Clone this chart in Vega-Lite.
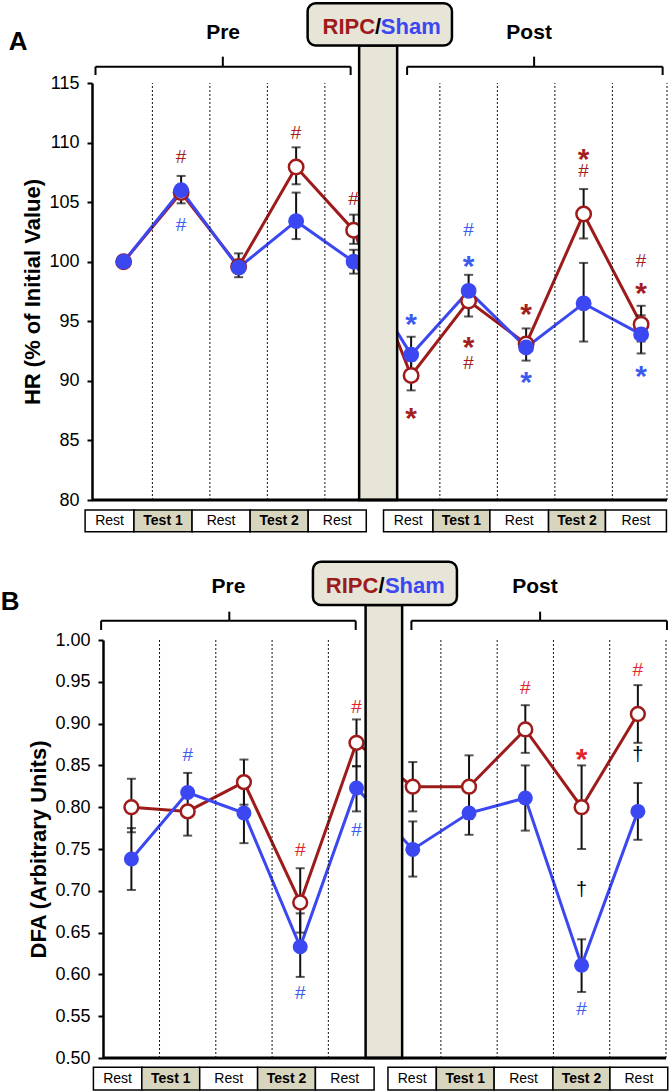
{
"$schema": "https://vega.github.io/schema/vega-lite/v6.json",
"padding": {"left": 0, "top": 2, "right": 0, "bottom": 0},
"config": {"view": {"stroke": null}, "font": "Liberation Sans", "text": {"color": "black"}},
"spacing": 27,
"datasets": {
"hr": [
{"t":1,"g":"RIPC","v":100},
{"t":2,"g":"RIPC","v":105.8,"lo":104.9,"hi":107.2},
{"t":3,"g":"RIPC","v":99.6,"lo":98.7,"hi":100.7},
{"t":4,"g":"RIPC","v":107.95,"lo":106.5,"hi":109.6},
{"t":5,"g":"RIPC","v":102.65,"lo":101.5,"hi":103.95},
{"t":6,"g":"RIPC","v":90.45,"lo":89.2,"hi":91.7},
{"t":7,"g":"RIPC","v":96.7,"lo":95.4,"hi":98.0},
{"t":8,"g":"RIPC","v":93.1,"lo":91.7,"hi":94.4},
{"t":9,"g":"RIPC","v":104.0,"lo":101.95,"hi":106.1},
{"t":10,"g":"RIPC","v":94.75,"lo":93.3,"hi":96.3},
{"t":1,"g":"Sham","v":100},
{"t":2,"g":"Sham","v":106.0},
{"t":3,"g":"Sham","v":99.5},
{"t":4,"g":"Sham","v":103.4,"lo":101.9,"hi":105.8},
{"t":5,"g":"Sham","v":100.0,"lo":99.0,"hi":101.0},
{"t":6,"g":"Sham","v":92.2,"lo":90.8,"hi":93.7},
{"t":7,"g":"Sham","v":97.55,"lo":96.4,"hi":98.9},
{"t":8,"g":"Sham","v":92.8},
{"t":9,"g":"Sham","v":96.5,"lo":93.3,"hi":99.9},
{"t":10,"g":"Sham","v":93.9,"lo":92.3,"hi":95.5}
],
"dfa": [
{"t":1,"g":"RIPC","v":0.800,"lo":0.770,"hi":0.834},
{"t":2,"g":"RIPC","v":0.795,"lo":0.766,"hi":0.841},
{"t":3,"g":"RIPC","v":0.830,"lo":0.803,"hi":0.857},
{"t":4,"g":"RIPC","v":0.686,"lo":0.650,"hi":0.727},
{"t":5,"g":"RIPC","v":0.877,"lo":0.849,"hi":0.905},
{"t":6,"g":"RIPC","v":0.8245,"lo":0.795,"hi":0.854},
{"t":7,"g":"RIPC","v":0.8245,"lo":0.786,"hi":0.862},
{"t":8,"g":"RIPC","v":0.893,"lo":0.865,"hi":0.922},
{"t":9,"g":"RIPC","v":0.800,"lo":0.750,"hi":0.850},
{"t":10,"g":"RIPC","v":0.9115,"lo":0.877,"hi":0.946},
{"t":1,"g":"Sham","v":0.738,"lo":0.701,"hi":0.775},
{"t":2,"g":"Sham","v":0.8175},
{"t":3,"g":"Sham","v":0.793,"lo":0.757,"hi":0.829},
{"t":4,"g":"Sham","v":0.633,"lo":0.597,"hi":0.673},
{"t":5,"g":"Sham","v":0.823,"lo":0.795,"hi":0.849},
{"t":6,"g":"Sham","v":0.7495,"lo":0.717,"hi":0.783},
{"t":7,"g":"Sham","v":0.793,"lo":0.767,"hi":0.82},
{"t":8,"g":"Sham","v":0.811,"lo":0.772,"hi":0.850},
{"t":9,"g":"Sham","v":0.611,"lo":0.579,"hi":0.642},
{"t":10,"g":"Sham","v":0.795,"lo":0.761,"hi":0.829}
],
"hrMarks": [
{"t":2,"g":"RIPC","v":108.75,"s":"#"},
{"t":2,"g":"Sham","v":103.05,"s":"#"},
{"t":4,"g":"RIPC","v":110.8,"s":"#"},
{"t":5,"g":"RIPC","v":105.3,"s":"#"},
{"t":6,"g":"Sham","v":95.4,"s":"*"},
{"t":6,"g":"RIPC","v":87.5,"s":"*"},
{"t":7,"g":"Sham","v":102.7,"s":"#"},
{"t":7,"g":"Sham","v":100.25,"s":"*"},
{"t":7,"g":"RIPC","v":93.4,"s":"*"},
{"t":7,"g":"RIPC","v":91.5,"s":"#"},
{"t":8,"g":"RIPC","v":96.2,"s":"*"},
{"t":8,"g":"Sham","v":90.5,"s":"*"},
{"t":9,"g":"RIPC","v":109.2,"s":"*"},
{"t":9,"g":"RIPC","v":107.6,"s":"#"},
{"t":10,"g":"RIPC","v":100.05,"s":"#"},
{"t":10,"g":"RIPC","v":98.0,"s":"*"},
{"t":10,"g":"Sham","v":91.0,"s":"*"}
],
"dfaMarks": [
{"t":2,"g":"Sham","v":0.863,"s":"#"},
{"t":4,"g":"RIPC","v":0.749,"s":"#"},
{"t":4,"g":"Sham","v":0.578,"s":"#"},
{"t":5,"g":"RIPC","v":0.92,"s":"#"},
{"t":5,"g":"Sham","v":0.773,"s":"#"},
{"t":8,"g":"RIPC","v":0.942,"s":"#"},
{"t":9,"g":"RIPC","v":0.866,"s":"*"},
{"t":9,"g":"none","v":0.701,"s":"†"},
{"t":9,"g":"Sham","v":0.559,"s":"#"},
{"t":10,"g":"RIPC","v":0.964,"s":"#"},
{"t":10,"g":"none","v":0.862,"s":"†"}
],
"cellsA": [
{"from":0.33,"to":1.18,"m":0.755,"label":"Rest","k":"Rest"},
{"from":1.18,"to":2.19,"m":1.685,"label":"Test 1","k":"Test"},
{"from":2.19,"to":3.2,"m":2.695,"label":"Rest","k":"Rest"},
{"from":3.2,"to":4.21,"m":3.705,"label":"Test 2","k":"Test"},
{"from":4.21,"to":5.22,"m":4.715,"label":"Rest","k":"Rest"},
{"from":5.52,"to":6.38,"m":5.95,"label":"Rest","k":"Rest"},
{"from":6.38,"to":7.37,"m":6.875,"label":"Test 1","k":"Test"},
{"from":7.37,"to":8.39,"m":7.88,"label":"Rest","k":"Rest"},
{"from":8.39,"to":9.38,"m":8.885,"label":"Test 2","k":"Test"},
{"from":9.38,"to":10.44,"m":9.91,"label":"Rest","k":"Rest"}
],
"cellsB": [
{"from":0.325,"to":1.185,"m":0.755,"label":"Rest","k":"Rest"},
{"from":1.185,"to":2.214,"m":1.7,"label":"Test 1","k":"Test"},
{"from":2.214,"to":3.243,"m":2.73,"label":"Rest","k":"Rest"},
{"from":3.243,"to":4.27,"m":3.757,"label":"Test 2","k":"Test"},
{"from":4.27,"to":5.313,"m":4.79,"label":"Rest","k":"Rest"},
{"from":5.559,"to":6.419,"m":5.989,"label":"Rest","k":"Rest"},
{"from":6.419,"to":7.446,"m":6.933,"label":"Test 1","k":"Test"},
{"from":7.446,"to":8.491,"m":7.969,"label":"Rest","k":"Rest"},
{"from":8.491,"to":9.504,"m":8.998,"label":"Test 2","k":"Test"},
{"from":9.504,"to":10.531,"m":10.018,"label":"Rest","k":"Rest"}
],
"divA": [{"d":1.5},{"d":2.5},{"d":3.5},{"d":4.5},{"d":6.5},{"d":7.5},{"d":8.5},{"d":9.5},{"d":10.45}],
"divB": [{"d":1.5},{"d":2.5},{"d":3.5},{"d":4.5},{"d":6.5},{"d":7.5},{"d":8.5},{"d":9.5},{"d":10.5}],
"one": [{"n":1}]
},
"vconcat": [
{
"width": 575, "height": 417,
"layer": [
{"data": {"name": "hr"}, "mark": {"type": "line", "strokeWidth": 3},
 "encoding": {
  "x": {"field": "t", "type": "quantitative", "scale": {"domain": [0.45, 10.45], "nice": false, "zero": false}, "axis": null},
  "y": {"field": "v", "type": "quantitative", "scale": {"domain": [80, 115], "nice": false, "zero": false},
   "axis": {"values": [80,85,90,95,100,105,110,115], "format": "d", "title": "HR (% of Initial Value)", "titleFontSize": 22, "titleFontWeight": "bold", "titleColor": "black", "titlePadding": 4, "labelFontSize": 18, "labelColor": "black", "labelPadding": 8, "labelOverlap": false, "tickColor": "black", "tickSize": 5, "tickWidth": 2, "domainColor": "black", "domainWidth": 2.5, "grid": false}},
  "color": {"field": "g", "type": "nominal", "scale": {"domain": ["RIPC", "Sham"], "range": ["#9e1b1b", "#3b48f2"]}, "legend": null}}},
{"data": {"name": "divA"}, "mark": {"type": "rule", "strokeDash": [2, 2], "strokeWidth": 1, "color": "#111"},
 "encoding": {"x": {"field": "d", "type": "quantitative", "axis": null}, "y": {"datum": 80}, "y2": {"datum": 115}}},
{"data": {"name": "hr"}, "transform": [{"filter": "datum.lo != null"}], "mark": {"type": "rule", "strokeWidth": 2, "color": "#111"},
 "encoding": {"x": {"field": "t", "type": "quantitative", "axis": null}, "y": {"field": "lo", "type": "quantitative"}, "y2": {"field": "hi"}}},
{"data": {"name": "hr"}, "transform": [{"filter": "datum.lo != null"}], "mark": {"type": "tick", "orient": "horizontal", "size": 9, "thickness": 2, "color": "#111"},
 "encoding": {"x": {"field": "t", "type": "quantitative", "axis": null}, "y": {"field": "lo", "type": "quantitative"}}},
{"data": {"name": "hr"}, "transform": [{"filter": "datum.lo != null"}], "mark": {"type": "tick", "orient": "horizontal", "size": 9, "thickness": 2, "color": "#111"},
 "encoding": {"x": {"field": "t", "type": "quantitative", "axis": null}, "y": {"field": "hi", "type": "quantitative"}}},
{"data": {"name": "hr"}, "transform": [{"filter": "datum.g == 'RIPC'"}], "mark": {"type": "point", "shape": "circle", "filled": true, "fill": "white", "stroke": "#9e1b1b", "strokeWidth": 2.5, "size": 210, "opacity": 1},
 "encoding": {"x": {"field": "t", "type": "quantitative", "axis": null}, "y": {"field": "v", "type": "quantitative"}}},
{"data": {"name": "hr"}, "transform": [{"filter": "datum.g == 'Sham'"}], "mark": {"type": "circle", "size": 250, "color": "#3b48f2", "opacity": 1},
 "encoding": {"x": {"field": "t", "type": "quantitative", "axis": null}, "y": {"field": "v", "type": "quantitative"}}},
{"data": {"name": "one"}, "mark": {"type": "rect", "fill": "#e6e5d8", "stroke": "black", "strokeWidth": 2.5},
 "encoding": {"x": {"datum": 5.096, "axis": null}, "x2": {"datum": 5.757}, "y": {"datum": 80}, "y2": {"datum": 118.15}}},
{"data": {"name": "one"}, "mark": {"type": "rect", "fill": "#e6e5d8", "stroke": "black", "strokeWidth": 2.5, "cornerRadius": 8},
 "encoding": {"x": {"datum": 4.2, "axis": null}, "x2": {"datum": 6.71}, "y": {"datum": 118.15}, "y2": {"datum": 121.69}}},
{"data": {"name": "one"}, "mark": {"type": "text", "text": "RIPC", "align": "right", "fontWeight": "bold", "fontSize": 22, "color": "#9e1b1b"},
 "encoding": {"x": {"datum": 5.374, "axis": null}, "y": {"datum": 119.68}}},
{"data": {"name": "one"}, "mark": {"type": "text", "text": "/", "align": "center", "fontWeight": "bold", "fontSize": 22, "color": "black"},
 "encoding": {"x": {"datum": 5.423, "axis": null}, "y": {"datum": 119.68}}},
{"data": {"name": "one"}, "mark": {"type": "text", "text": "Sham", "align": "left", "fontWeight": "bold", "fontSize": 22, "color": "#3b48f2"},
 "encoding": {"x": {"datum": 5.473, "axis": null}, "y": {"datum": 119.68}}},
{"data": {"name": "one"}, "mark": {"type": "text", "text": "Pre", "fontWeight": "bold", "fontSize": 21},
 "encoding": {"x": {"datum": 2.73, "axis": null}, "y": {"datum": 119.21}}},
{"data": {"name": "one"}, "mark": {"type": "text", "text": "Post", "fontWeight": "bold", "fontSize": 21},
 "encoding": {"x": {"datum": 8.052, "axis": null}, "y": {"datum": 119.21}}},
{"data": {"name": "one"}, "mark": {"type": "text", "text": "A", "fontWeight": "bold", "fontSize": 26},
 "encoding": {"x": {"datum": -0.835, "axis": null}, "y": {"datum": 118.47}}},
{"data": {"name": "one"}, "mark": {"type": "rule", "strokeWidth": 2, "color": "black"},
 "encoding": {"x": {"datum": 0.511, "axis": null}, "x2": {"datum": 4.948}, "y": {"datum": 116.37}}},
{"data": {"name": "one"}, "mark": {"type": "rule", "strokeWidth": 2, "color": "black"},
 "encoding": {"x": {"datum": 0.511, "axis": null}, "y": {"datum": 116.37}, "y2": {"datum": 115.67}}},
{"data": {"name": "one"}, "mark": {"type": "rule", "strokeWidth": 2, "color": "black"},
 "encoding": {"x": {"datum": 4.948, "axis": null}, "y": {"datum": 116.37}, "y2": {"datum": 115.67}}},
{"data": {"name": "one"}, "mark": {"type": "rule", "strokeWidth": 2, "color": "black"},
 "encoding": {"x": {"datum": 2.725, "axis": null}, "y": {"datum": 116.37}, "y2": {"datum": 117.21}}},
{"data": {"name": "one"}, "mark": {"type": "rule", "strokeWidth": 2, "color": "black"},
 "encoding": {"x": {"datum": 5.93, "axis": null}, "x2": {"datum": 10.374}, "y": {"datum": 116.37}}},
{"data": {"name": "one"}, "mark": {"type": "rule", "strokeWidth": 2, "color": "black"},
 "encoding": {"x": {"datum": 5.93, "axis": null}, "y": {"datum": 116.37}, "y2": {"datum": 115.67}}},
{"data": {"name": "one"}, "mark": {"type": "rule", "strokeWidth": 2, "color": "black"},
 "encoding": {"x": {"datum": 10.374, "axis": null}, "y": {"datum": 116.37}, "y2": {"datum": 115.67}}},
{"data": {"name": "one"}, "mark": {"type": "rule", "strokeWidth": 2, "color": "black"},
 "encoding": {"x": {"datum": 8.139, "axis": null}, "y": {"datum": 116.37}, "y2": {"datum": 117.21}}},
{"data": {"name": "hrMarks"}, "transform": [{"filter": "datum.s == '#'"}], "mark": {"type": "text", "fontSize": 19},
 "encoding": {"x": {"field": "t", "type": "quantitative", "axis": null}, "y": {"field": "v", "type": "quantitative"}, "text": {"field": "s", "type": "nominal"},
  "color": {"condition": {"test": "datum.g == 'RIPC'", "value": "#a31f1f"}, "value": "#3b5bf0"}}},
{"data": {"name": "hrMarks"}, "transform": [{"filter": "datum.s == '*'"}], "mark": {"type": "text", "fontSize": 30, "fontWeight": "bold", "dy": 8},
 "encoding": {"x": {"field": "t", "type": "quantitative", "axis": null}, "y": {"field": "v", "type": "quantitative"}, "text": {"field": "s", "type": "nominal"},
  "color": {"condition": {"test": "datum.g == 'RIPC'", "value": "#a31f1f"}, "value": "#3b5bf0"}}},
{"data": {"name": "cellsA"}, "mark": {"type": "rect", "stroke": "black", "strokeWidth": 1.5},
 "encoding": {"x": {"field": "from", "type": "quantitative", "axis": null}, "x2": {"field": "to"}, "y": {"datum": 79.16}, "y2": {"datum": 77.34},
  "fill": {"condition": {"test": "datum.k == 'Test'", "value": "#d8d5bf"}, "value": "white"}}},
{"data": {"name": "cellsA"}, "transform": [{"filter": "datum.k == 'Rest'"}], "mark": {"type": "text", "fontSize": 14},
 "encoding": {"x": {"field": "m", "type": "quantitative", "axis": null}, "y": {"datum": 78.25}, "text": {"field": "label", "type": "nominal"}}},
{"data": {"name": "cellsA"}, "transform": [{"filter": "datum.k == 'Test'"}], "mark": {"type": "text", "fontSize": 14, "fontWeight": "bold"},
 "encoding": {"x": {"field": "m", "type": "quantitative", "axis": null}, "y": {"datum": 78.25}, "text": {"field": "label", "type": "nominal"}}},
{"data": {"name": "one"}, "mark": {"type": "rule", "strokeWidth": 3, "color": "black"},
 "encoding": {"x": {"datum": 0.45, "axis": null}, "x2": {"datum": 10.45}, "y": {"datum": 80}}}
]
},
{
"width": 574, "height": 418,
"layer": [
{"data": {"name": "dfa"}, "mark": {"type": "line", "strokeWidth": 3},
 "encoding": {
  "x": {"field": "t", "type": "quantitative", "scale": {"domain": [0.3, 10.5], "nice": false, "zero": false}, "axis": null},
  "y": {"field": "v", "type": "quantitative", "scale": {"domain": [0.5, 1.0], "nice": false, "zero": false},
   "axis": {"values": [0.5,0.55,0.6,0.65,0.7,0.75,0.8,0.85,0.9,0.95,1.0], "format": ".2f", "offset": -11, "title": "DFA (Arbitrary Units)", "titleFontSize": 22, "titleFontWeight": "bold", "titleColor": "black", "titlePadding": 4, "labelFontSize": 18, "labelColor": "black", "labelPadding": 8, "labelOverlap": false, "tickColor": "black", "tickSize": 5, "tickWidth": 2, "domainColor": "black", "domainWidth": 2.5, "grid": false}},
  "color": {"field": "g", "type": "nominal", "scale": {"domain": ["RIPC", "Sham"], "range": ["#9e1b1b", "#3b48f2"]}, "legend": null}}},
{"data": {"name": "divB"}, "mark": {"type": "rule", "strokeDash": [2, 2], "strokeWidth": 1, "color": "#111"},
 "encoding": {"x": {"field": "d", "type": "quantitative", "axis": null}, "y": {"datum": 0.5}, "y2": {"datum": 1.0}}},
{"data": {"name": "dfa"}, "transform": [{"filter": "datum.lo != null"}], "mark": {"type": "rule", "strokeWidth": 2, "color": "#111"},
 "encoding": {"x": {"field": "t", "type": "quantitative", "axis": null}, "y": {"field": "lo", "type": "quantitative"}, "y2": {"field": "hi"}}},
{"data": {"name": "dfa"}, "transform": [{"filter": "datum.lo != null"}], "mark": {"type": "tick", "orient": "horizontal", "size": 9, "thickness": 2, "color": "#111"},
 "encoding": {"x": {"field": "t", "type": "quantitative", "axis": null}, "y": {"field": "lo", "type": "quantitative"}}},
{"data": {"name": "dfa"}, "transform": [{"filter": "datum.lo != null"}], "mark": {"type": "tick", "orient": "horizontal", "size": 9, "thickness": 2, "color": "#111"},
 "encoding": {"x": {"field": "t", "type": "quantitative", "axis": null}, "y": {"field": "hi", "type": "quantitative"}}},
{"data": {"name": "dfa"}, "transform": [{"filter": "datum.g == 'RIPC'"}], "mark": {"type": "point", "shape": "circle", "filled": true, "fill": "white", "stroke": "#9e1b1b", "strokeWidth": 2.5, "size": 190, "opacity": 1},
 "encoding": {"x": {"field": "t", "type": "quantitative", "axis": null}, "y": {"field": "v", "type": "quantitative"}}},
{"data": {"name": "dfa"}, "transform": [{"filter": "datum.g == 'Sham'"}], "mark": {"type": "circle", "size": 225, "color": "#3b48f2", "opacity": 1},
 "encoding": {"x": {"field": "t", "type": "quantitative", "axis": null}, "y": {"field": "v", "type": "quantitative"}}},
{"data": {"name": "one"}, "mark": {"type": "rect", "fill": "#e6e5d8", "stroke": "black", "strokeWidth": 2.5},
 "encoding": {"x": {"datum": 5.162, "axis": null}, "x2": {"datum": 5.811}, "y": {"datum": 0.5}, "y2": {"datum": 1.0419}}},
{"data": {"name": "one"}, "mark": {"type": "rect", "fill": "#e6e5d8", "stroke": "black", "strokeWidth": 2.5, "cornerRadius": 8},
 "encoding": {"x": {"datum": 4.226, "axis": null}, "x2": {"datum": 6.785}, "y": {"datum": 1.0419}, "y2": {"datum": 1.0937}}},
{"data": {"name": "one"}, "mark": {"type": "text", "text": "RIPC", "align": "right", "fontWeight": "bold", "fontSize": 22, "color": "#9e1b1b"},
 "encoding": {"x": {"datum": 5.39, "axis": null}, "y": {"datum": 1.065}}},
{"data": {"name": "one"}, "mark": {"type": "text", "text": "/", "align": "center", "fontWeight": "bold", "fontSize": 22, "color": "black"},
 "encoding": {"x": {"datum": 5.447, "axis": null}, "y": {"datum": 1.065}}},
{"data": {"name": "one"}, "mark": {"type": "text", "text": "Sham", "align": "left", "fontWeight": "bold", "fontSize": 22, "color": "#3b48f2"},
 "encoding": {"x": {"datum": 5.505, "axis": null}, "y": {"datum": 1.065}}},
{"data": {"name": "one"}, "mark": {"type": "text", "text": "Pre", "fontWeight": "bold", "fontSize": 21},
 "encoding": {"x": {"datum": 2.724, "axis": null}, "y": {"datum": 1.0638}}},
{"data": {"name": "one"}, "mark": {"type": "text", "text": "Post", "fontWeight": "bold", "fontSize": 21},
 "encoding": {"x": {"datum": 8.171, "axis": null}, "y": {"datum": 1.0638}}},
{"data": {"name": "one"}, "mark": {"type": "text", "text": "B", "fontWeight": "bold", "fontSize": 26},
 "encoding": {"x": {"datum": -1.155, "axis": null}, "y": {"datum": 1.0458}}},
{"data": {"name": "one"}, "mark": {"type": "rule", "strokeWidth": 2, "color": "black"},
 "encoding": {"x": {"datum": 0.462, "axis": null}, "x2": {"datum": 4.986}, "y": {"datum": 1.0231}}},
{"data": {"name": "one"}, "mark": {"type": "rule", "strokeWidth": 2, "color": "black"},
 "encoding": {"x": {"datum": 0.462, "axis": null}, "y": {"datum": 1.0231}, "y2": {"datum": 1.012}}},
{"data": {"name": "one"}, "mark": {"type": "rule", "strokeWidth": 2, "color": "black"},
 "encoding": {"x": {"datum": 4.986, "axis": null}, "y": {"datum": 1.0231}, "y2": {"datum": 1.012}}},
{"data": {"name": "one"}, "mark": {"type": "rule", "strokeWidth": 2, "color": "black"},
 "encoding": {"x": {"datum": 2.74, "axis": null}, "y": {"datum": 1.0231}, "y2": {"datum": 1.0339}}},
{"data": {"name": "one"}, "mark": {"type": "rule", "strokeWidth": 2, "color": "black"},
 "encoding": {"x": {"datum": 5.976, "axis": null}, "x2": {"datum": 10.517}, "y": {"datum": 1.0231}}},
{"data": {"name": "one"}, "mark": {"type": "rule", "strokeWidth": 2, "color": "black"},
 "encoding": {"x": {"datum": 5.976, "axis": null}, "y": {"datum": 1.0231}, "y2": {"datum": 1.012}}},
{"data": {"name": "one"}, "mark": {"type": "rule", "strokeWidth": 2, "color": "black"},
 "encoding": {"x": {"datum": 10.517, "axis": null}, "y": {"datum": 1.0231}, "y2": {"datum": 1.012}}},
{"data": {"name": "one"}, "mark": {"type": "rule", "strokeWidth": 2, "color": "black"},
 "encoding": {"x": {"datum": 8.263, "axis": null}, "y": {"datum": 1.0231}, "y2": {"datum": 1.0339}}},
{"data": {"name": "dfaMarks"}, "transform": [{"filter": "datum.s == '#'"}], "mark": {"type": "text", "fontSize": 19},
 "encoding": {"x": {"field": "t", "type": "quantitative", "axis": null}, "y": {"field": "v", "type": "quantitative"}, "text": {"field": "s", "type": "nominal"},
  "color": {"condition": {"test": "datum.g == 'RIPC'", "value": "#e3242b"}, "value": "#3b5bf0"}}},
{"data": {"name": "dfaMarks"}, "transform": [{"filter": "datum.s == '*'"}], "mark": {"type": "text", "fontSize": 30, "fontWeight": "bold", "dy": 8},
 "encoding": {"x": {"field": "t", "type": "quantitative", "axis": null}, "y": {"field": "v", "type": "quantitative"}, "text": {"field": "s", "type": "nominal"},
  "color": {"condition": {"test": "datum.g == 'RIPC'", "value": "#e3242b"}, "value": "#3b5bf0"}}},
{"data": {"name": "dfaMarks"}, "transform": [{"filter": "datum.g == 'none'"}], "mark": {"type": "text", "fontSize": 20, "color": "black"},
 "encoding": {"x": {"field": "t", "type": "quantitative", "axis": null}, "y": {"field": "v", "type": "quantitative"}, "text": {"field": "s", "type": "nominal"}}},
{"data": {"name": "cellsB"}, "mark": {"type": "rect", "stroke": "black", "strokeWidth": 1.5},
 "encoding": {"x": {"field": "from", "type": "quantitative", "axis": null}, "x2": {"field": "to"}, "y": {"datum": 0.4889}, "y2": {"datum": 0.4617},
  "fill": {"condition": {"test": "datum.k == 'Test'", "value": "#d8d5bf"}, "value": "white"}}},
{"data": {"name": "cellsB"}, "transform": [{"filter": "datum.k == 'Rest'"}], "mark": {"type": "text", "fontSize": 14},
 "encoding": {"x": {"field": "m", "type": "quantitative", "axis": null}, "y": {"datum": 0.4753}, "text": {"field": "label", "type": "nominal"}}},
{"data": {"name": "cellsB"}, "transform": [{"filter": "datum.k == 'Test'"}], "mark": {"type": "text", "fontSize": 14, "fontWeight": "bold"},
 "encoding": {"x": {"field": "m", "type": "quantitative", "axis": null}, "y": {"datum": 0.4753}, "text": {"field": "label", "type": "nominal"}}},
{"data": {"name": "one"}, "mark": {"type": "rule", "strokeWidth": 3, "color": "black"},
 "encoding": {"x": {"datum": 0.5, "axis": null}, "x2": {"datum": 10.5}, "y": {"datum": 0.5}}}
]
}
]
}
